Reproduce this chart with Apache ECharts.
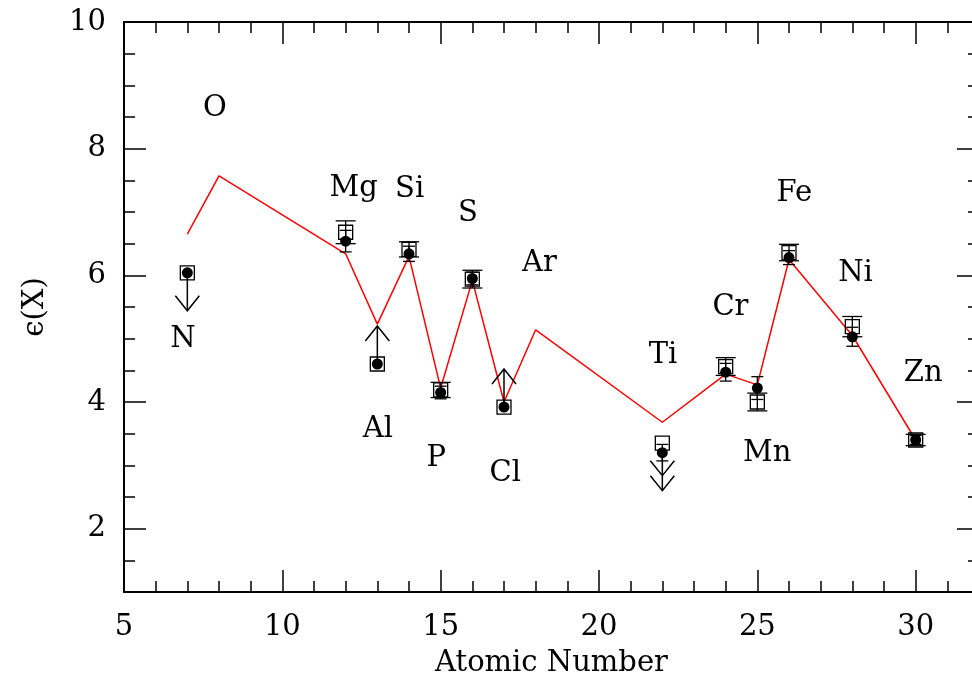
<!DOCTYPE html>
<html>
<head>
<meta charset="utf-8">
<script src="https://cdn.jsdelivr.net/npm/echarts@6/dist/echarts.min.js"></script>
<style>
  html, body { margin: 0; padding: 0; background: #fff; }
  #chart { width: 972px; height: 677px; }
</style>
</head>
<body>
<div id="chart"></div>
<script>
// Measured abundances (open squares and filled dots) per element
const elements     = ['N', 'Mg', 'Al', 'Si', 'P', 'S', 'Cl', 'Ti', 'Cr', 'Mn', 'Fe', 'Ni', 'Zn'];
const atomicNumber = [7, 12, 13, 14, 15, 16, 17, 22, 24, 25, 26, 28, 30];
const squareValue  = [6.04, 6.68, 4.60, 6.41, 4.19, 5.94, 3.92, 3.35, 4.56, 4.00, 6.36, 5.19, 3.40];
const squareError  = [0, 0.18, 0, 0.12, 0.12, 0.14, 0, 0, 0.14, 0.14, 0.13, 0.16, 0.09];
const dotValue     = [6.04, 6.54, 4.60, 6.34, 4.15, 5.95, 3.92, 3.20, 4.47, 4.22, 6.28, 5.03, 3.40];
const dotError     = [0, 0.17, 0, 0.12, 0.10, 0.10, 0, 0.13, 0.14, 0.18, 0.11, 0.15, 0.07];
// limit flags: 1 = lower limit (arrow up), -1 = upper limit (arrow down), -2 = double arrow down, 0 = none
const limitFlag    = [-1, 0, 1, 0, 0, 0, 1, -2, 0, 0, 0, 0, 0];

// Model curve
const modelZ     = [7, 8, 12, 13, 14, 15, 16, 17, 18, 22, 24, 25, 26, 28, 30];
const modelValue = [6.65, 7.57, 6.34, 5.23, 6.30, 4.22, 5.92, 4.00, 5.14, 3.68, 4.44, 4.27, 6.25, 5.05, 3.40];

// Element name annotations (data coordinates)
const labelNames = ['O', 'N', 'Mg', 'Si', 'S', 'Ar', 'Al', 'P', 'Cl', 'Ti', 'Cr', 'Mn', 'Fe', 'Ni', 'Zn'];
const labelZ     = [7.87, 6.86, 12.25, 14.02, 15.86, 18.12, 13.02, 14.86, 17.04, 22.02, 24.15, 25.31, 26.17, 28.10, 30.24];
const labelValue = [8.64, 4.98, 7.37, 7.35, 6.98, 6.19, 3.56, 3.11, 2.87, 4.74, 5.50, 3.19, 7.30, 6.03, 4.45];

// Axis ranges and tick marks
const xRange = [5, 32];
const yRange = [1, 10];
const xStep = 5;
const xTickLabels = [5, 10, 15, 20, 25, 30];
const yTickLabels = [2, 4, 6, 8, 10];
const yMinorStep = 0.5;

const FONT = 'DejaVu Serif';
const FS = 29;
const ARROW_LEN = 0.6;

const chart = echarts.init(document.getElementById('chart'), null, { renderer: 'canvas' });

function errorBarItem(capWidth) {
  return function (params, api) {
    const x = api.value(0);
    const lo = api.value(1);
    const hi = api.value(2);
    if (hi <= lo) return null;
    const top = api.coord([x, hi]);
    const bot = api.coord([x, lo]);
    const h = capWidth / 2;
    const style = { stroke: '#000', lineWidth: 1.3 };
    return {
      type: 'group',
      children: [
        { type: 'line', shape: { x1: top[0], y1: top[1], x2: bot[0], y2: bot[1] }, style },
        { type: 'line', shape: { x1: top[0] - h, y1: top[1], x2: top[0] + h, y2: top[1] }, style },
        { type: 'line', shape: { x1: bot[0] - h, y1: bot[1], x2: bot[0] + h, y2: bot[1] }, style }
      ]
    };
  };
}

function arrowItem(params, api) {
  const x = api.value(0);
  const y = api.value(1);
  const flag = api.value(2);
  if (!flag) return null;
  const dir = flag > 0 ? 1 : -1;
  const start = api.coord([x, y]);
  const tip = api.coord([x, y + dir * ARROW_LEN]);
  const hw = 12, hh = 15;
  // screen y grows downward: an upward arrow has its wings below the tip
  const back = dir > 0 ? hh : -hh;
  const style = { stroke: '#000', lineWidth: 1.5, fill: null };
  const children = [
    { type: 'line', shape: { x1: start[0], y1: start[1], x2: tip[0], y2: tip[1] }, style },
    { type: 'polyline', shape: { points: [[tip[0] - hw, tip[1] + back], [tip[0], tip[1]], [tip[0] + hw, tip[1] + back]] }, style }
  ];
  if (Math.abs(flag) === 2) {
    const t2 = tip[1] + back;
    children.push({ type: 'polyline', shape: { points: [[tip[0] - hw, t2 + back], [tip[0], t2], [tip[0] + hw, t2 + back]] }, style });
  }
  return { type: 'group', children };
}

const squareBars = atomicNumber.map((z, i) => [z, squareValue[i] - squareError[i], squareValue[i] + squareError[i]]);
const dotBars = atomicNumber.map((z, i) => [z, dotValue[i] - dotError[i], dotValue[i] + dotError[i]]);
const arrows = atomicNumber.map((z, i) => [z, dotValue[i], limitFlag[i]]);

const lineStyle = { color: '#000', width: 2 };
const tickStyle = { color: '#000', width: 1.5 };
const labelFont = { color: '#000', fontFamily: FONT, fontSize: FS };

function xAxisDef(position, withLabels) {
  const ax = {
    type: 'value', position,
    min: xRange[0], max: xRange[1], interval: xStep,
    axisLine: { show: true, onZero: false, lineStyle },
    axisTick: { show: true, inside: true, length: 22, lineStyle: tickStyle },
    minorTick: { show: true, splitNumber: 5, length: 11, lineStyle: tickStyle },
    splitLine: { show: false },
    axisLabel: withLabels
      ? Object.assign({ show: true, margin: 21, customValues: xTickLabels }, labelFont)
      : { show: false }
  };
  if (withLabels) {
    ax.name = 'Atomic Number';
    ax.nameLocation = 'middle';
    ax.nameGap = 57;
    ax.nameTextStyle = labelFont;
  }
  return ax;
}

// Each side of the frame gets two y axes: one carrying the short half-unit
// ticks and the axis line, one carrying the long ticks at the labelled values.
function yAxisPair(position, withLabels) {
  const minor = {
    type: 'value', position,
    min: yRange[0], max: yRange[1], interval: yMinorStep,
    axisLine: { show: true, onZero: false, lineStyle },
    axisTick: { show: true, inside: true, length: 11, lineStyle: tickStyle },
    splitLine: { show: false },
    axisLabel: withLabels
      ? Object.assign({ show: true, margin: 18, customValues: yTickLabels }, labelFont)
      : { show: false }
  };
  if (withLabels) {
    minor.name = 'ϵ(X)';
    minor.nameLocation = 'middle';
    minor.nameGap = 74;
    minor.nameRotate = 90;
    minor.nameTextStyle = labelFont;
  }
  const major = {
    type: 'value', position,
    min: yRange[0], max: yRange[1], interval: yMinorStep,
    axisLine: { show: false },
    axisTick: { show: true, inside: true, length: 22, customValues: yTickLabels, lineStyle: tickStyle },
    splitLine: { show: false },
    axisLabel: { show: false }
  };
  return [minor, major];
}

const option = {
  backgroundColor: '#fff',
  animation: false,
  // the frame runs a little past the right edge of the canvas
  grid: { left: 124, top: 22, width: 855, height: 570, containLabel: false, outerBoundsMode: 'none' },
  xAxis: [xAxisDef('bottom', true), xAxisDef('top', false)],
  yAxis: [].concat(yAxisPair('left', true), yAxisPair('right', false)),
  series: [
    {
      name: 'model', type: 'line',
      data: modelZ.map((z, i) => [z, modelValue[i]]),
      showSymbol: false, symbol: 'none',
      lineStyle: { color: '#ff0000', width: 1.5 },
      z: 2
    },
    {
      name: 'square errors', type: 'custom',
      renderItem: errorBarItem(20),
      data: squareBars, encode: { x: 0, y: [1, 2] }, z: 3
    },
    {
      name: 'dot errors', type: 'custom',
      renderItem: errorBarItem(12),
      data: dotBars, encode: { x: 0, y: [1, 2] }, z: 3
    },
    {
      name: 'squares', type: 'scatter',
      data: atomicNumber.map((z, i) => [z, squareValue[i]]),
      symbol: 'rect', symbolSize: 14,
      itemStyle: { color: 'rgba(0,0,0,0)', borderColor: '#000', borderWidth: 1.3, opacity: 1 },
      z: 4
    },
    {
      name: 'dots', type: 'scatter',
      data: atomicNumber.map((z, i) => [z, dotValue[i]]),
      symbol: 'circle', symbolSize: 11,
      itemStyle: { color: '#000', opacity: 1 },
      z: 5
    },
    {
      name: 'limits', type: 'custom',
      renderItem: arrowItem,
      data: arrows, encode: { x: 0, y: 1 }, z: 5
    },
    {
      name: 'labels', type: 'scatter',
      data: labelNames.map((n, i) => ({ name: n, value: [labelZ[i], labelValue[i]] })),
      symbolSize: 0,
      itemStyle: { opacity: 1 },
      label: Object.assign({ show: true, position: 'inside', formatter: p => p.name }, labelFont),
      z: 6
    }
  ]
};

chart.setOption(option);
</script>
</body>
</html>
